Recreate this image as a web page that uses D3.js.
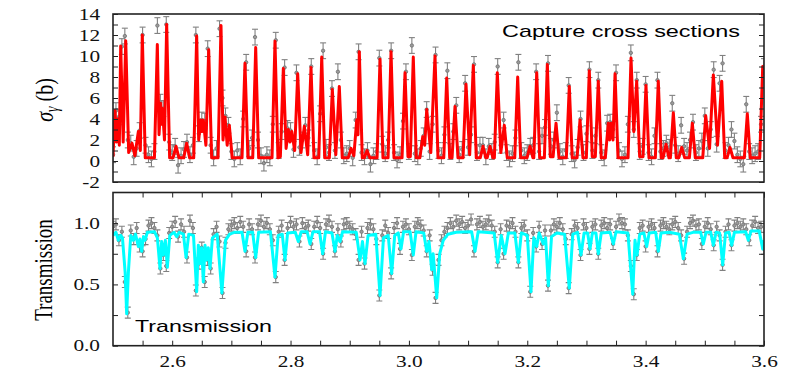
<!DOCTYPE html>
<html>
<head>
<meta charset="utf-8">
<script src="https://cdn.jsdelivr.net/npm/d3@7"></script>
<style>
  html, body { margin: 0; padding: 0; background: #fff; }
  svg { display: block; }
  .tick text { font-family: "Liberation Serif", "DejaVu Serif", serif; font-size: 16px; fill: #111; }
</style>
</head>
<body>
<div id="chart"></div>
<script>
// ---- data ----
// energy grid of the measured points (MeV)
var gridStart = 2.5, gridStep = 0.005;

// capture cross section, measured points (b), one per grid bin
var sigmaData = [
  0.6,4.8,4.2,10.9,11.9,2.0,1.7,0.4,1.2,2.9,
  12.0,1.5,0.6,0.2,0.9,12.9,5.6,5.0,13.0,1.8,
  0.8,1.4,-0.4,0.5,1.1,1.8,0.6,1.5,12.0,2.6,
  3.9,3.8,10.7,1.5,0.3,1.2,12.6,6.0,4.3,3.4,
  0.9,0.2,1.0,0.4,4.0,9.4,1.2,2.2,11.8,2.0,
  0.5,-0.2,0.6,0.3,3.5,11.5,1.0,2.8,8.9,3.1,
  2.9,1.1,8.4,1.3,2.0,3.4,2.2,9.0,1.0,0.4,
  4.5,10.5,1.3,0.8,6.9,1.0,8.5,2.0,0.5,0.7,
  1.2,0.3,3.9,10.4,0.8,0.4,1.0,-0.3,0.5,0.9,
  9.8,1.6,0.7,2.0,10.5,0.8,0.1,0.6,3.8,8.5,
  0.9,11.0,0.7,0.4,1.2,2.4,4.9,0.9,3.5,10.1,
  1.0,0.5,2.5,8.6,0.9,2.8,5.3,0.6,1.1,7.4,
  1.3,2.5,9.2,0.8,1.5,1.5,0.4,1.4,0.9,1.8,
  9.0,1.5,3.9,0.8,0.2,0.7,2.2,9.4,1.0,0.5,
  0.8,1.4,1.5,8.5,0.9,2.4,3.2,9.3,1.4,2.0,
  4.6,0.9,0.4,1.0,7.2,0.7,0.1,1.3,4.0,0.8,
  2.6,8.7,1.0,2.4,7.7,0.8,0.3,3.6,3.7,3.0,
  8.4,1.0,0.2,0.6,3.5,10.3,3.0,7.7,0.9,1.4,
  7.3,0.8,0.4,2.4,7.7,0.9,1.2,1.7,1.3,5.5,
  1.5,0.7,3.4,1.4,1.0,2.0,3.7,0.8,1.2,1.9,
  4.3,1.2,3.0,8.7,1.6,7.4,9.3,1.0,1.5,3.0,
  1.9,0.6,0.2,-0.3,5.4,0.9,0.5,0.7,0.9,3.5,
  9.0
];
var sigmaErr = 0.75;

// capture cross section, fitted curve vertices [E, sigma]
var sigmaFit = [
  [2.500,0.4],[2.5034,4.8],[2.5059,1.8],[2.5084,4.0],[2.5107,1.5],[2.5130,10.95],[2.5172,1.8],[2.5215,11.45],
  [2.5265,0.8],[2.5321,1.7],[2.537,0.5],[2.5428,2.8],[2.5462,1.0],[2.5495,12.0],[2.5545,0.3],[2.570,0.3],
  [2.5749,11.1],[2.5778,2.5],[2.5806,5.5],[2.5821,3.5],[2.5836,5.0],[2.5870,2.0],[2.5907,13.0],[2.5957,0.3],
  [2.6015,0.3],[2.6065,1.4],[2.6115,0.3],[2.6195,0.3],[2.6245,1.7],[2.6295,0.3],[2.6364,0.3],[2.6414,11.9],
  [2.6448,2.0],[2.6482,3.9],[2.6504,2.8],[2.6526,3.9],[2.6570,1.5],[2.6617,10.6],[2.6667,0.3],[2.6775,0.3],
  [2.6825,12.9],[2.6859,2.0],[2.6893,4.2],[2.6929,1.5],[2.6965,3.4],[2.7015,0.3],[2.718,0.3],[2.7230,9.3],
  [2.728,0.3],[2.7361,0.3],[2.7411,10.8],[2.7461,0.3],[2.7687,0.3],[2.7737,11.4],[2.7787,0.3],[2.7828,0.4],
  [2.7878,8.8],[2.7925,1.2],[2.7962,3.0],[2.7991,1.8],[2.8020,2.8],[2.8070,1.0],[2.8121,8.3],[2.8177,0.8],
  [2.8233,3.3],[2.8290,0.6],[2.8346,8.9],[2.8396,0.3],[2.8477,0.3],[2.8527,9.9],[2.8577,0.3],[2.8656,0.3],
  [2.8706,6.8],[2.8765,0.6],[2.8824,7.1],[2.8874,0.3],[2.8975,0.3],[2.9022,1.2],[2.9070,0.5],[2.9118,3.9],
  [2.9140,2.5],[2.9162,10.4],[2.9212,0.3],[2.9245,0.3],[2.9292,1.0],[2.934,0.3],[2.9462,0.3],[2.9512,9.7],
  [2.9562,0.3],[2.9648,0.3],[2.9698,10.4],[2.9748,0.3],[2.9884,0.3],[2.9934,8.4],[2.9984,0.4],[3.0024,0.4],
  [3.0074,9.9],[3.0124,0.3],[3.0185,0.3],[3.0233,2.3],[3.0267,1.5],[3.0301,4.9],[3.0370,0.8],[3.0441,10.0],
  [3.0491,0.3],[3.0589,0.3],[3.0639,7.9],[3.0689,0.3],[3.0729,0.3],[3.0779,5.2],[3.0829,0.3],[3.0915,0.3],
  [3.0965,7.3],[3.1027,0.6],[3.1088,9.1],[3.1138,0.3],[3.1205,0.3],[3.1252,1.4],[3.1300,0.3],[3.1322,0.3],
  [3.1370,1.4],[3.1420,0.3],[3.1444,0.3],[3.1494,8.4],[3.1553,0.8],[3.1612,3.4],[3.1662,0.3],[3.1788,0.3],
  [3.1838,8.0],[3.1888,0.3],[3.1996,0.3],[3.2046,1.4],[3.2096,0.3],[3.2110,0.3],[3.2160,8.4],[3.2210,0.3],
  [3.2289,0.3],[3.2339,9.2],[3.2389,0.4],[3.2436,0.4],[3.2486,3.6],[3.2536,0.3],[3.2660,0.3],[3.2710,7.1],
  [3.2760,0.3],[3.2841,0.3],[3.2891,3.9],[3.2941,0.3],[3.2998,0.3],[3.3048,8.6],[3.3098,0.4],[3.3150,0.4],
  [3.3200,7.6],[3.3250,0.3],[3.3319,0.3],[3.3369,3.6],[3.3392,2.0],[3.3415,3.6],[3.3449,2.0],[3.3483,8.3],
  [3.3533,0.3],[3.3703,0.3],[3.3753,9.8],[3.3800,2.8],[3.3849,7.6],[3.3899,0.4],[3.3956,0.4],[3.4006,7.2],
  [3.4056,0.3],[3.4164,0.3],[3.4214,7.6],[3.4264,0.3],[3.4294,0.3],[3.4344,1.6],[3.4394,0.3],[3.4418,0.3],
  [3.4468,4.6],[3.4518,0.3],[3.4560,0.3],[3.4610,1.3],[3.4660,0.3],[3.4739,0.3],[3.4789,3.6],[3.4839,0.3],
  [3.4965,0.3],[3.5015,4.3],[3.5080,1.2],[3.5144,8.2],[3.5215,1.5],[3.5286,7.6],[3.5336,0.3],[3.5376,0.3],
  [3.5426,1.3],[3.5476,0.3],[3.5668,0.3],[3.5718,4.5],[3.5768,0.3],[3.5928,0.3],[3.5978,9.0],[3.600,8.2]
];

// transmission, measured points, one per grid bin
var transData = [
  0.97,0.99,0.86,0.93,0.52,0.27,0.94,0.87,0.96,0.81,
  0.77,0.87,0.98,1.00,0.96,0.90,0.63,0.74,0.65,0.92,
  0.97,1.01,0.89,0.99,0.93,0.72,1.02,0.96,0.45,0.67,
  0.80,0.52,0.70,0.63,0.91,0.97,0.85,0.43,0.84,0.95,
  0.98,1.00,0.96,1.01,0.97,0.77,0.99,0.95,0.72,0.99,
  1.02,0.97,1.00,0.95,0.86,0.56,0.93,0.98,0.70,0.96,
  1.01,0.97,0.99,0.85,1.00,0.96,0.98,0.83,0.97,1.01,
  0.96,0.75,0.99,1.02,0.97,0.77,0.95,0.85,0.99,1.00,
  0.97,0.95,0.91,0.70,0.93,0.67,0.96,0.99,0.95,0.87,
  0.41,0.90,0.98,0.92,0.59,0.96,1.00,0.79,0.97,0.99,
  0.95,0.74,0.97,1.00,0.98,0.94,0.77,0.90,0.62,0.39,
  0.70,0.86,0.93,0.96,1.00,0.97,1.02,0.99,1.01,0.96,
  0.98,1.03,0.77,0.99,1.01,0.97,0.99,1.02,0.98,0.93,
  0.68,0.95,0.75,0.98,0.97,1.00,0.93,0.68,0.96,0.98,
  0.90,0.44,0.92,0.81,0.97,0.83,0.94,0.49,0.94,0.99,
  0.97,1.00,0.95,0.87,0.47,0.91,0.98,0.96,0.74,0.99,
  0.96,0.79,0.97,0.99,0.75,0.98,1.00,0.96,0.99,0.83,
  0.97,1.03,1.00,0.99,0.90,0.65,0.42,0.74,0.96,0.98,
  0.81,0.97,0.99,0.96,0.77,0.98,1.00,0.97,0.95,0.99,
  1.01,0.96,0.90,0.71,0.93,1.00,1.02,0.98,0.99,0.83,
  0.97,1.00,0.95,0.82,0.97,0.90,0.66,0.93,0.99,0.82,
  0.98,1.00,0.97,0.99,0.95,0.86,0.98,1.01,0.96,0.97,
  0.79
];
var transErr = 0.045;

// transmission, fitted curve vertices [E, T]
var transFit = [
  [2.500,0.90],[2.505,0.925],[2.509,0.86],[2.513,0.90],[2.516,0.88],[2.5205,0.60],[2.5231,0.26],[2.526,0.60],
  [2.530,0.90],[2.5343,0.86],[2.538,0.91],[2.5428,0.81],[2.5455,0.87],[2.5485,0.77],[2.5515,0.89],[2.5541,0.86],
  [2.558,0.925],[2.570,0.93],[2.575,0.88],[2.5794,0.63],[2.5822,0.85],[2.5850,0.74],[2.5885,0.86],[2.5918,0.64],
  [2.596,0.90],[2.603,0.925],[2.6076,0.89],[2.612,0.925],[2.619,0.91],[2.6234,0.72],[2.628,0.91],[2.636,0.90],
  [2.6414,0.44],[2.6442,0.82],[2.6470,0.67],[2.6498,0.80],[2.6526,0.52],[2.6555,0.82],[2.6583,0.70],[2.661,0.80],
  [2.6639,0.63],[2.668,0.88],[2.676,0.91],[2.6840,0.43],[2.690,0.86],[2.697,0.91],[2.705,0.925],[2.718,0.925],
  [2.7230,0.77],[2.728,0.925],[2.736,0.925],[2.7411,0.72],[2.746,0.925],[2.766,0.93],[2.7737,0.56],[2.779,0.90],
  [2.786,0.91],[2.7906,0.70],[2.795,0.92],[2.808,0.925],[2.8131,0.85],[2.818,0.93],[2.828,0.93],[2.8329,0.83],
  [2.838,0.93],[2.849,0.93],[2.8543,0.75],[2.859,0.93],[2.870,0.92],[2.8751,0.77],[2.879,0.90],[2.8836,0.85],
  [2.888,0.93],[2.911,0.925],[2.9174,0.70],[2.9215,0.85],[2.9258,0.67],[2.931,0.90],[2.944,0.91],[2.9512,0.41],
  [2.957,0.88],[2.965,0.90],[2.9709,0.59],[2.976,0.90],[2.982,0.92],[2.9867,0.79],[2.991,0.93],[3.002,0.93],
  [3.0074,0.74],[3.012,0.93],[3.025,0.92],[3.0301,0.77],[3.034,0.85],[3.0385,0.62],[3.041,0.75],[3.0470,0.39],
  [3.052,0.75],[3.058,0.86],[3.066,0.91],[3.080,0.925],[3.106,0.93],[3.1117,0.77],[3.117,0.93],[3.144,0.92],
  [3.1500,0.68],[3.156,0.90],[3.1624,0.75],[3.168,0.92],[3.179,0.92],[3.1849,0.68],[3.190,0.92],[3.200,0.90],
  [3.2063,0.44],[3.211,0.88],[3.2160,0.81],[3.220,0.92],[3.2271,0.83],[3.231,0.88],[3.2356,0.49],[3.241,0.89],
  [3.250,0.92],[3.263,0.91],[3.2710,0.47],[3.277,0.91],[3.285,0.925],[3.2908,0.74],[3.296,0.92],[3.302,0.92],
  [3.3060,0.79],[3.310,0.92],[3.316,0.92],[3.3200,0.75],[3.325,0.92],[3.340,0.925],[3.3454,0.83],[3.350,0.93],
  [3.370,0.92],[3.3782,0.42],[3.382,0.86],[3.3855,0.74],[3.390,0.91],[3.397,0.92],[3.4018,0.81],[3.406,0.92],
  [3.417,0.925],[3.4214,0.77],[3.426,0.92],[3.440,0.925],[3.457,0.91],[3.4637,0.71],[3.470,0.91],[3.480,0.925],
  [3.493,0.925],[3.4975,0.83],[3.502,0.925],[3.510,0.925],[3.5144,0.82],[3.519,0.925],[3.525,0.92],[3.5302,0.66],
  [3.535,0.92],[3.541,0.925],[3.5455,0.82],[3.550,0.925],[3.569,0.93],[3.5735,0.86],[3.578,0.935],[3.592,0.935],
  [3.5978,0.79],[3.600,0.86]
];

// axis ticks
var xTickLabels = [2.6, 2.8, 3.0, 3.2, 3.4, 3.6];
var xMinorTicks = d3.range(2.55, 3.6, 0.05);
var sigmaTickLabels = [-2, 0, 2, 4, 6, 8, 10, 12, 14];
var sigmaMinorTicks = [-1, 1, 3, 5, 7, 9, 11, 13];
var transTickLabels = [0.0, 0.5, 1.0];
var transMinorTicks = [0.25, 0.75];

// ---- layout ----
var W = 794, H = 377;
var left = 113, right = 764;
var topPanel = {y0: 14, y1: 182};
var botPanel = {y0: 192.5, y1: 345.7};

var svg = d3.select("#chart").append("svg")
  .attr("width", W).attr("height", H);

var x = d3.scaleLinear().domain([2.5, 3.6]).range([left, right]);
var ySig = d3.scaleLinear().domain([-2, 14]).range([topPanel.y1, topPanel.y0]);
var yTr = d3.scaleLinear().domain([0, 1.25]).range([botPanel.y1, botPanel.y0]);

var grey = "#808080";

function clip(id, p) {
  svg.append("clipPath").attr("id", id)
    .append("rect").attr("x", left).attr("y", p.y0)
    .attr("width", right - left).attr("height", p.y1 - p.y0);
}
clip("clipTop", topPanel);
clip("clipBot", botPanel);

function drawPoints(g, values, err, y) {
  var pts = values.map(function(v, i) { return {e: gridStart + i * gridStep, v: v}; });
  var bars = g.selectAll("g.pt").data(pts).join("g").attr("class", "pt")
    .attr("stroke", grey).attr("stroke-width", 1.1);
  bars.append("line")
    .attr("x1", function(d) { return x(d.e); }).attr("x2", function(d) { return x(d.e); })
    .attr("y1", function(d) { return y(d.v - err); }).attr("y2", function(d) { return y(d.v + err); });
  bars.append("line")
    .attr("x1", function(d) { return x(d.e) - 3; }).attr("x2", function(d) { return x(d.e) + 3; })
    .attr("y1", function(d) { return y(d.v + err); }).attr("y2", function(d) { return y(d.v + err); });
  bars.append("line")
    .attr("x1", function(d) { return x(d.e) - 3; }).attr("x2", function(d) { return x(d.e) + 3; })
    .attr("y1", function(d) { return y(d.v - err); }).attr("y2", function(d) { return y(d.v - err); });
  bars.append("circle")
    .attr("cx", function(d) { return x(d.e); }).attr("cy", function(d) { return y(d.v); })
    .attr("r", 1.7).attr("fill", "#9a9a9a").attr("stroke", "#777").attr("stroke-width", 0.9);
}

// top panel
var gTop = svg.append("g").attr("clip-path", "url(#clipTop)");
drawPoints(gTop.append("g"), sigmaData, sigmaErr, ySig);
gTop.append("path")
  .datum(sigmaFit)
  .attr("fill", "none").attr("stroke", "#ff0000").attr("stroke-width", 3)
  .attr("stroke-linejoin", "round")
  .attr("d", d3.line().x(function(d) { return x(d[0]); }).y(function(d) { return ySig(d[1]); }));

// bottom panel
var gBot = svg.append("g").attr("clip-path", "url(#clipBot)");
drawPoints(gBot.append("g"), transData, transErr, yTr);
gBot.append("path")
  .datum(transFit)
  .attr("fill", "none").attr("stroke", "#00ffff").attr("stroke-width", 3)
  .attr("stroke-linejoin", "round")
  .attr("d", d3.line().x(function(d) { return x(d[0]); }).y(function(d) { return yTr(d[1]); }));

// axes: inward ticks
function axis(gen, tx, ty, vals, fmt) {
  var g = svg.append("g").attr("transform", "translate(" + tx + "," + ty + ")")
    .call(gen.tickValues(vals).tickSizeInner(-5).tickSizeOuter(0).tickPadding(fmt ? 13 : 0)
      .tickFormat(fmt || ""));
  g.select(".domain").remove();
  g.selectAll(".tick line").attr("stroke", "#222").attr("stroke-width", 1);
  return g;
}
var intFmt = function(d) { return String(d); };
var f1 = d3.format(".1f");

axis(d3.axisLeft(ySig), left, 0, sigmaTickLabels, intFmt);
axis(d3.axisLeft(ySig), left, 0, sigmaMinorTicks);
axis(d3.axisRight(ySig), right, 0, sigmaTickLabels.concat(sigmaMinorTicks));

axis(d3.axisLeft(yTr), left, 0, transTickLabels, f1);
axis(d3.axisLeft(yTr), left, 0, transMinorTicks);
axis(d3.axisRight(yTr), right, 0, transTickLabels.concat(transMinorTicks));

var xb = axis(d3.axisBottom(x), 0, botPanel.y1, xTickLabels, f1);
xb.selectAll(".tick text").attr("dy", "0.5em");
axis(d3.axisBottom(x), 0, botPanel.y1, xMinorTicks.filter(function(v) {
  return !xTickLabels.some(function(t) { return Math.abs(t - v) < 1e-6; });
}));
axis(d3.axisTop(x), 0, botPanel.y0, xMinorTicks.concat([3.6]));

// the figure is stretched horizontally: widen tick labels to match
svg.selectAll(".tick text").each(function() {
  var w = this.getComputedTextLength();
  if (w > 0) d3.select(this).attr("textLength", w * 1.33).attr("lengthAdjust", "spacingAndGlyphs");
});

// frames
[topPanel, botPanel].forEach(function(p) {
  svg.append("rect").attr("x", left).attr("y", p.y0)
    .attr("width", right - left).attr("height", p.y1 - p.y0)
    .attr("fill", "none").attr("stroke", "#222").attr("stroke-width", 1.6);
});

// panel captions
svg.append("text").attr("x", 502).attr("y", 37)
  .attr("font-family", "'Liberation Sans', Arial, sans-serif").attr("font-size", 17)
  .attr("textLength", 238).attr("lengthAdjust", "spacingAndGlyphs")
  .text("Capture cross sections");
svg.append("text").attr("x", 135).attr("y", 331.5)
  .attr("font-family", "'Liberation Sans', Arial, sans-serif").attr("font-size", 17)
  .attr("textLength", 137).attr("lengthAdjust", "spacingAndGlyphs")
  .text("Transmission");

// y titles
var yt = svg.append("text")
  .attr("transform", "translate(53,100) scale(1.3,1) rotate(-90)")
  .attr("text-anchor", "middle")
  .attr("font-family", "'Liberation Serif', 'DejaVu Serif', serif").attr("font-size", 20);
yt.append("tspan").attr("font-style", "italic").text("σ");
yt.append("tspan").attr("font-style", "italic").attr("font-size", 14).attr("dy", 4).text("γ");
yt.append("tspan").attr("dy", -4).text(" (b)");

svg.append("text")
  .attr("transform", "translate(52,270) scale(1.3,1) rotate(-90)")
  .attr("text-anchor", "middle")
  .attr("font-family", "'Liberation Serif', 'DejaVu Serif', serif").attr("font-size", 19)
  .text("Transmission");
</script>
</body>
</html>
